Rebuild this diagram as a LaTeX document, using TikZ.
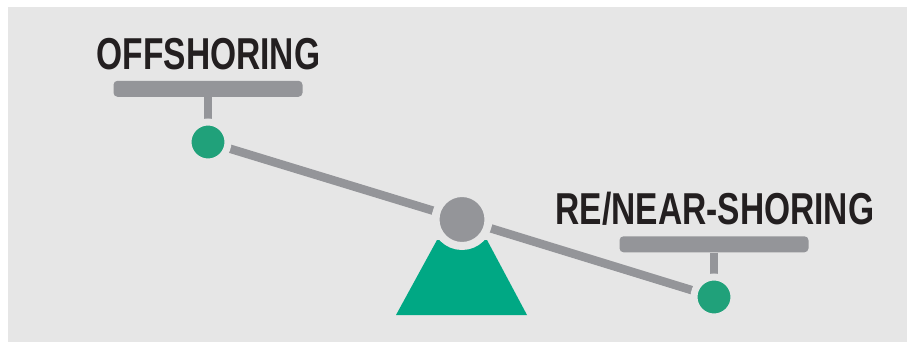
\documentclass[tikz,border=0pt]{standalone}
\usepackage{fontspec}
\usepackage{xcolor}
\usepackage{tikz}
\usetikzlibrary{positioning}
\newfontfamily\condsans[FakeStretch=0.75]{Liberation Sans}
\definecolor{panelgray}{RGB}{230, 230, 230}
\definecolor{beamgray}{RGB}{148, 149, 153}
\definecolor{dotgreen}{RGB}{32, 161, 122}
\definecolor{basegreen}{RGB}{0, 168, 132}
\definecolor{inkblack}{RGB}{35, 31, 32}
\pgfdeclarelayer{back}
\pgfsetlayers{back,main}

\begin{document}
\begin{tikzpicture}[
        x=1pt, y=-1pt,
        weight/.style={circle, fill=dotgreen, draw=panelgray, line width=7pt, inner sep=0pt, minimum size=40pt},
        pivot/.style={circle, fill=beamgray, draw=panelgray, line width=8pt, inner sep=0pt, minimum size=53pt},
        shelf/.style={rectangle, fill=beamgray, rounded corners=4pt, inner sep=0pt, minimum width=189pt, minimum height=16pt},
        tag/.style={anchor=base, inner sep=0pt, text=inkblack, font=\condsans\bfseries\fontsize{44.7}{50}\selectfont},
        beam/.style={draw=beamgray, line width=8.5pt},
        stem/.style={draw=beamgray, line width=8pt}
    ]
        \useasboundingbox (0,0) rectangle (907,342);

        % Seesaw weights and pivot
        \node[weight] (offdot) at (208, 142) {};
        \node[weight] (neardot) at (714, 297) {};
        \node[pivot] (pivot) at (462, 219.5) {};

        % Shelves and labels
        \node[shelf, above=21.5pt of offdot] (offshelf) {};
        \node[shelf, above=21pt of neardot] (nearshelf) {};
        \node[tag] (offtext) at (208.5, 70) {OFFSHORING};
        \node[tag] (neartext) at (715, 224) {RE/NEAR-SHORING};

        % Panel, base and beam (behind the halos)
        \begin{pgfonlayer}{back}
            \fill[white] (0,0) rectangle (907,342);
            \fill[panelgray] (8,7) rectangle (907,342);
            \fill[basegreen] (437, 240) -- (487, 240) -- (527, 315) -- (396, 315) -- cycle;
            \draw[beam] (offdot.center) -- (pivot.center) -- (neardot.center);
            \draw[stem] (offshelf.south) -- (offdot.center);
            \draw[stem] (nearshelf.south) -- (neardot.center);
        \end{pgfonlayer}
    \end{tikzpicture}
\end{document}
